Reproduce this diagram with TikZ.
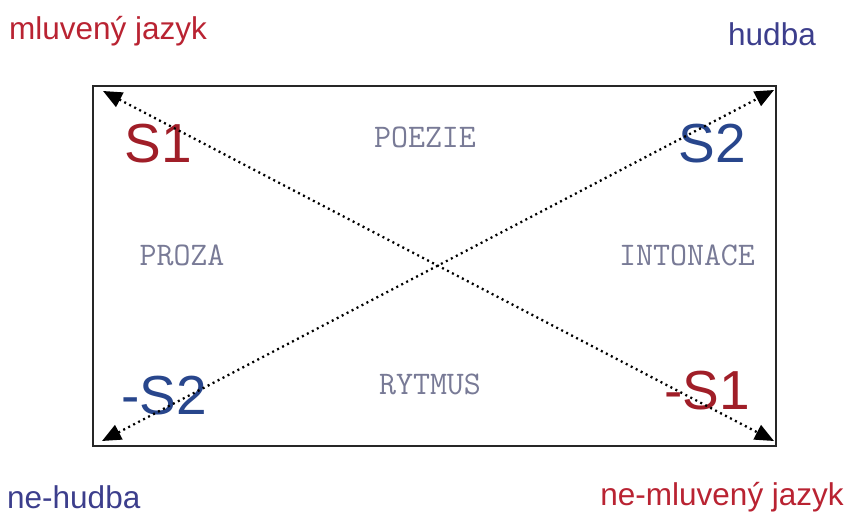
\documentclass[tikz,border=0pt]{standalone}
\usepackage{fontspec}
\setmainfont{Liberation Sans}
\usetikzlibrary{arrows.meta}
\definecolor{speechred}{RGB}{185,35,50}
\definecolor{musicblue}{RGB}{60,62,140}
\definecolor{symred}{RGB}{160,30,40}
\definecolor{symblue}{RGB}{40,70,140}
\definecolor{termgray}{RGB}{120,122,150}
\begin{document}
\begin{tikzpicture}[x=1pt,y=-1pt,
  corner/.style={font=\fontsize{31.5}{31.5}\selectfont, inner sep=0pt},
  sym/.style={font=\fontsize{55}{55}\selectfont, inner sep=0pt},
  term/.style={font=\ttfamily\fontsize{33}{33}\selectfont, text=termgray, inner sep=0pt},
  relation/.style={line width=2.3pt, dash pattern=on 2pt off 3.6pt,
    {Triangle[length=19pt,width=16pt]}-{Triangle[length=19pt,width=16pt]}}]
\useasboundingbox (0,0) rectangle (846,515);

% square of opposition frame
\node[draw=black!85, line width=2.2pt, minimum width=683pt, minimum height=360pt,
  inner sep=0pt] (frame) at (434.5,266) {};

% outer corner labels
\node[corner, text=speechred, anchor=west] (speech) at (9,31) {mluvený jazyk};
\node[corner, text=musicblue, anchor=east] (music) at (816,34) {hudba};
\node[corner, text=musicblue, anchor=west] (nonmusic) at (7,497) {ne-hudba};
\node[corner, text=speechred, anchor=east] (nonspeech) at (844,497) {ne-mluvený jazyk};

% poles inside the frame
\node[sym, text=symred] (s1) at (158,144) {S1};
\node[sym, text=symblue] (s2) at (712,144) {S2};
\node[sym, text=symblue] (ns2) at (164,396) {-S2};
\node[sym, text=symred] (ns1) at (707,391) {-S1};

% relations between the poles
\node[term] (poezie) at (425,137) {POEZIE};
\node[term] (proza) at (182,255) {PROZA};
\node[term] (intonace) at (687,255) {INTONACE};
\node[term] (rytmus) at (430,384) {RYTMUS};

% diagonals
\coordinate (tl) at (103,91);
\coordinate (tr) at (774,90);
\coordinate (bl) at (102,441);
\coordinate (br) at (774,441);
\draw[relation] (tl) -- (br);
\draw[relation] (bl) -- (tr);
\end{tikzpicture}
\end{document}
